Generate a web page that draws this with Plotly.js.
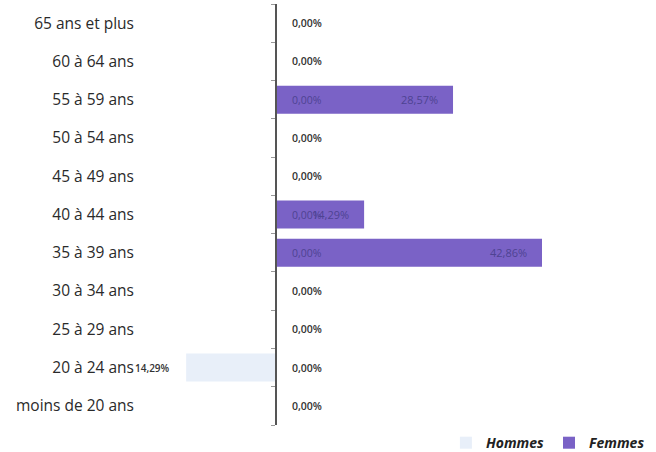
<!DOCTYPE html>
<html><head><meta charset="utf-8">
<script src="https://cdn.plot.ly/plotly-3.0.1.min.js"></script>
<style>html,body{margin:0;padding:0;background:#fff}#c{width:656px;height:452px}</style>
</head><body><div id="c"></div>
<script>
const categories = ["moins de 20 ans","20 à 24 ans","25 à 29 ans","30 à 34 ans","35 à 39 ans","40 à 44 ans","45 à 49 ans","50 à 54 ans","55 à 59 ans","60 à 64 ans","65 ans et plus"];
const hommes = [0, 14.29, 0, 0, 0, 0, 0, 0, 0, 0, 0];
const femmes = [0, 0, 0, 0, 42.86, 14.29, 0, 0, 28.57, 0, 0];

const fmt = v => v.toFixed(2).replace('.', ',') + '%';
const xmin = -20.9, xmax = 58.6;

const traces = [
  {type:'bar', orientation:'h', name:'Hommes', y:categories, x:hommes.map(v=>-v),
   marker:{color:'#e8eff9'}, hoverinfo:'none'},
  {type:'bar', orientation:'h', name:'Femmes', y:categories, x:femmes,
   marker:{color:'#7a62c6'}, hoverinfo:'none'},
  {type:'scatter', x:[null], y:[null], yaxis:'y2', showlegend:false, hoverinfo:'none'}
];

const annotations = [];
categories.forEach((c,i)=>{
  const onBar = femmes[i] > 0;
  annotations.push({x:0, y:c, text:fmt(0), showarrow:false, xanchor:'left', xshift:15,
    font:{family:'Open Sans', size:onBar?10.5:10.5, color:onBar?'#4e4392':'#333', weight:onBar?400:600}});
  if (femmes[i] > 0) annotations.push({x:femmes[i], y:c, text:fmt(femmes[i]), showarrow:false,
    xanchor:'right', xshift:-13, font:{family:'Open Sans', size:11, color:'#4e4392'}});
  if (hommes[i] > 0) annotations.push({x:-hommes[i], y:c, text:fmt(hommes[i]), showarrow:false,
    xanchor:'right', xshift:-14, font:{family:'Open Sans', size:10, color:'#333', weight:600}});
});

const layout = {
  width:656, height:452,
  margin:{l:145, r:16, t:4, b:27, autoexpand:false},
  paper_bgcolor:'#fff', plot_bgcolor:'#fff',
  barmode:'overlay', bargap:0.27,
  font:{family:'Open Sans', color:'#333'},
  xaxis:{range:[xmin,xmax], showgrid:false, showticklabels:false, zeroline:false, showline:false, ticks:''},
  yaxis:{type:'category', categoryarray:categories, range:[-0.5,10.5], showgrid:false, zeroline:false,
         showline:false, ticks:'', ticklabelstandoff:10, tickfont:{family:'Open Sans', size:15.5, color:'#2a2a2a'}},
  yaxis2:{overlaying:'y', anchor:'free', position:(0-xmin)/(xmax-xmin), range:[-0.5,10.5],
          tickmode:'array', tickvals:categories.map((c,i)=>i-0.5).concat([10.5]), showticklabels:false,
          ticks:'outside', ticklen:4, tickcolor:'#999', showline:true, linecolor:'#555', linewidth:1.5,
          showgrid:false, zeroline:false, side:'left'},
  showlegend:true,
  legend:{orientation:'h', x:1.02, xanchor:'right', y:-0.005, yanchor:'top', itemwidth:30,
          font:{family:'Open Sans', size:14, color:'#222', style:'italic', weight:700}, traceorder:'normal'},
  annotations:annotations
};
Plotly.newPlot('c', traces, layout, {displayModeBar:false, staticPlot:true});
</script></body></html>
